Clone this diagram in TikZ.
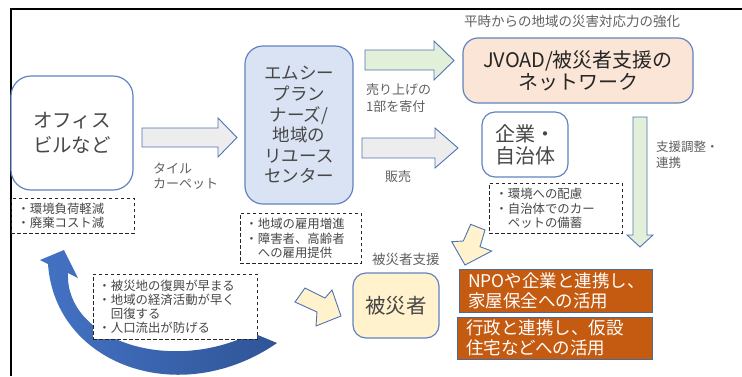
\documentclass[tikz,border=0pt]{standalone}
\usepackage{fontspec}
\setmainfont{Noto Sans CJK JP}
\definecolor{boxborder}{HTML}{6283C0}
\definecolor{arrborder}{HTML}{4F73B5}
\definecolor{txt}{HTML}{474747}
\definecolor{lbl}{HTML}{606060}
\definecolor{bluefill}{HTML}{DAE3F3}
\definecolor{peach}{HTML}{FBE5D6}
\definecolor{cream}{HTML}{FFF2CC}
\definecolor{orangefill}{HTML}{C55A11}
\definecolor{orangeborder}{HTML}{4A6A9A}
\definecolor{grayfill}{HTML}{EDEDED}
\definecolor{greenfill}{HTML}{E2F0D9}
\definecolor{arrL}{HTML}{4472C4}
\definecolor{arrD}{HTML}{2F5597}
\newcommand{\zwind}{\makebox[1em][l]{}}
\tikzset{
  rbox/.style={draw=boxborder, line width=1.2pt, align=center, text=txt, inner sep=0pt},
  obox/.style={draw=orangeborder, line width=1pt, fill=orangefill, text=white, align=left,
     inner sep=0pt, font=\fontsize{17.5}{20}\selectfont},
  dbox/.style={draw=black!85, line width=0.9pt, dash pattern=on 3.5pt off 2.5pt, text=txt,
     align=left, anchor=north west, font=\fontsize{12.4}{14.5}\selectfont, inner ysep=0pt},
  lab/.style={text=lbl, inner sep=0pt, anchor=west, align=left},
  blockarr/.style={draw=arrborder, line width=0.9pt, line join=miter},
}
\begin{document}
\begin{tikzpicture}[x=1pt,y=-1pt]
\useasboundingbox (0,0) rectangle (742,376);
% frame
\draw[line width=2pt, black] (11,376) -- (11,9) -- (742,9);

% curved blue arrow (behind the dashed box)
\path[left color=arrL, right color=arrD]
  (277,343) .. controls (180,410) and (55,365) .. (48,264)
  -- (40,260) -- (64,250) -- (78,278) -- (68,273)
  .. controls (65,340) and (170,375) .. (253,333) -- cycle;

% main boxes
\node[rbox, fill=white, minimum width=122pt, minimum height=114pt, rounded corners=20pt,
  font=\fontsize{19.5}{25}\selectfont] (office) at (72,133) {オフィス\\ビルなど};
\node[rbox, fill=bluefill, minimum width=108pt, minimum height=158pt, rounded corners=18pt,
  font=\fontsize{17.5}{20.6}\selectfont] (mc) at (299,125) {エムシー\\プラン\\ナーズ/\\地域の\\リユース\\センター};
\node[rbox, fill=peach, minimum width=230pt, minimum height=65pt, rounded corners=15pt,
  text=black!85, font=\fontsize{20}{22}\selectfont] (jvoad) at (578,70.5) {JVOAD/被災者支援の\\ネットワーク};
\node[rbox, fill=white, minimum width=86pt, minimum height=65pt, rounded corners=13pt,
  font=\fontsize{20}{22}\selectfont] (kigyo) at (525,144.5) {企業・\\自治体};
\node[rbox, fill=cream, minimum width=86pt, minimum height=65pt, rounded corners=13pt,
  font=\fontsize{20.5}{24}\selectfont] (hisai) at (396,305.5) {被災者};

% orange boxes
\node[obox, minimum width=193pt, minimum height=43pt, text width=175pt, inner xsep=9pt] (npo) at (555.5,290.5) {NPOや企業と連携し、\\家屋保全への活用};
\node[obox, minimum width=195pt, minimum height=42pt, text width=177pt, inner xsep=9pt] (gyosei) at (554.5,338) {行政と連携し、仮設\\住宅などへの活用};

% dashed boxes
\node[dbox, minimum width=123pt, minimum height=35pt, text width=111pt, inner xsep=6pt] (d1) at (11,198)
  {・環境負荷軽減\\・廃棄コスト減};
\node[dbox, minimum width=121pt, minimum height=50pt, text width=111pt, inner xsep=5pt] (d2) at (240,213)
  {・地域の雇用増進\\・障害者、高齢者\\\zwind{}への雇用提供};
\node[dbox, minimum width=133pt, minimum height=50pt, text width=121pt, inner xsep=6pt] (d3) at (489,183)
  {・環境への配慮\\・自治体でのカー\\\zwind{}ペットの備蓄};
\node[dbox, fill=white, minimum width=164pt, minimum height=65pt, text width=154pt, inner xsep=5pt,
  font=\fontsize{12.4}{14}\selectfont] (d4) at (93,274)
  {・被災地の復興が早まる\\・地域の経済活動が早く\\\zwind{}回復する\\・人口流出が防げる};

% labels
\node[lab, font=\fontsize{13}{15}\selectfont] (l1) at (153,176.5) {タイル\\カーペット};
\node[lab, font=\fontsize{13}{17}\selectfont] (l2) at (366,98.5) {売り上げの\\1部を寄付};
\node[lab, font=\fontsize{13}{15}\selectfont] (l3) at (385,177) {販売};
\node[lab, font=\fontsize{13.5}{15}\selectfont] (l4) at (464,21) {平時からの地域の災害対応力の強化};
\node[lab, font=\fontsize{12.5}{16}\selectfont] (l5) at (656,155) {支援調整・\\連携};
\node[lab, font=\fontsize{13.5}{15}\selectfont] (l6) at (372,259) {被災者支援};

% block arrows
\draw[blockarr, fill=grayfill] (142,128) -- (218,128) -- (218,118) -- (237,137.5) -- (218,157) -- (218,147) -- (142,147) -- cycle;
\draw[blockarr, fill=greenfill] (365,50) -- (434,50) -- (434,41) -- (454,60.5) -- (434,80) -- (434,70) -- (365,70) -- cycle;
\draw[blockarr, fill=grayfill] (362,138) -- (435,138) -- (435,128) -- (458,148) -- (435,168) -- (435,158) -- (362,158) -- cycle;
\draw[blockarr, fill=greenfill] (633,117) -- (647,117) -- (647,235) -- (653,235) -- (640,247) -- (627,235) -- (633,235) -- cycle;
\draw[blockarr, fill=cream] (470.7,224.3) -- (485,230) -- (480,246.7) -- (491.7,251) -- (465,265) -- (451.7,241.7) -- (463.3,241) -- cycle;
\draw[blockarr, fill=cream] (305,288) -- (325,298) -- (332,290) -- (341,316) -- (316,326) -- (317,312) -- (295,302) -- cycle;
\end{tikzpicture}
\end{document}
